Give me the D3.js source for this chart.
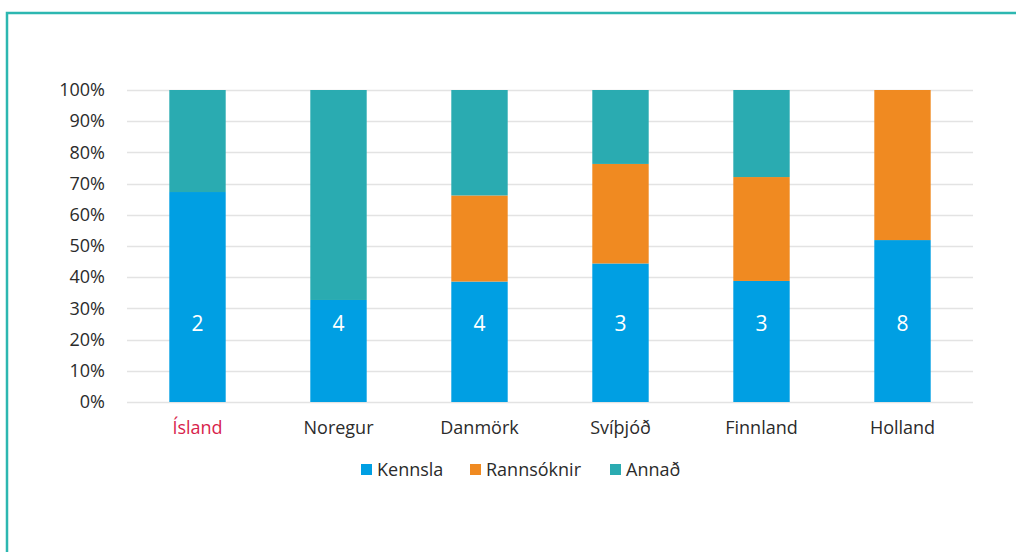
<!DOCTYPE html>
<html>
<head>
<meta charset="utf-8">
<script src="https://cdn.jsdelivr.net/npm/d3@7"></script>
<style>
  body { margin: 0; background: #fff; }
  text { font-family: "Open Sans", "Noto Sans", sans-serif; }
</style>
</head>
<body>
<div id="chart"></div>
<script>
let svgWidth = 1016;
let svgHeight = 552;

// Data ===========================
let countries = ["Ísland", "Noregur", "Danmörk", "Svíþjóð", "Finnland", "Holland"];
let seriesNames = ["Kennsla", "Rannsóknir", "Annað"];
let kennsla = [67.3, 32.7, 38.6, 44.4, 38.8, 51.9];
let rannsoknir = [0, 0, 27.6, 31.9, 33.3, 48.1];
let annad = [32.7, 67.3, 33.8, 23.7, 27.9, 0];
let barLabels = [2, 4, 4, 3, 3, 8];
let yTicks = [0, 10, 20, 30, 40, 50, 60, 70, 80, 90, 100];
let colors = ["#009fe3", "#f08a21", "#2aabb1"];

let table = countries.map((c, i) => ({
  country: c,
  "Kennsla": kennsla[i],
  "Rannsóknir": rannsoknir[i],
  "Annað": annad[i],
  label: barLabels[i]
}));

let svg = d3.select("#chart").append("svg")
  .attr("width", svgWidth)
  .attr("height", svgHeight);

// frame: left and top border
svg.append("path")
  .attr("d", `M7,${svgHeight} L7,13 L${svgWidth},13`)
  .attr("fill", "none")
  .attr("stroke", "#2db7b1")
  .attr("stroke-width", 2.5);

let margin = { top: 90, left: 127, right: 43, bottom: 150 };
let width = svgWidth - margin.left - margin.right;
let height = 402 - margin.top;

let chartGroup = svg.append("g")
  .attr("transform", `translate(${margin.left}, ${margin.top})`);

let x = d3.scaleBand().domain(countries).range([0, width]).paddingInner(0.6).paddingOuter(0.3);
let y = d3.scaleLinear().domain([0, 100]).range([height, 0]);
let color = d3.scaleOrdinal().domain(seriesNames).range(colors);

// gridlines
chartGroup.append("g")
  .selectAll("line")
  .data(yTicks)
  .enter()
  .append("line")
  .attr("x1", 0)
  .attr("x2", width)
  .attr("y1", d => Math.round(y(d)) + 0.5)
  .attr("y2", d => Math.round(y(d)) + 0.5)
  .attr("stroke", "#e3e3e3")
  .attr("stroke-width", 1.5);

// y axis labels
let yAxis = chartGroup.append("g")
  .call(d3.axisLeft(y).tickValues(yTicks).tickFormat(d => d + "%").tickSize(0).tickPadding(22));
yAxis.select(".domain").remove();
yAxis.selectAll("text")
  .style("font-family", "'Open Sans', sans-serif")
  .style("font-size", "18px")
  .style("fill", "#2b2b2b");

// stacked bars
let stacked = d3.stack().keys(seriesNames)(table);

chartGroup.append("g")
  .selectAll("g")
  .data(stacked)
  .enter()
  .append("g")
  .attr("fill", d => color(d.key))
  .selectAll("rect")
  .data(d => d)
  .enter()
  .append("rect")
  .attr("x", d => x(d.data.country))
  .attr("y", d => y(d[1]))
  .attr("width", x.bandwidth())
  .attr("height", d => y(d[0]) - y(d[1]));

// value labels inside Kennsla
chartGroup.append("g")
  .selectAll("text")
  .data(table)
  .enter()
  .append("text")
  .attr("x", d => x(d.country) + x.bandwidth() / 2)
  .attr("y", y(25))
  .attr("dy", "0.35em")
  .attr("text-anchor", "middle")
  .style("font-size", "21px")
  .style("fill", "#fff")
  .text(d => d.label);

// x axis labels
let xAxis = chartGroup.append("g")
  .attr("transform", `translate(0, ${height})`)
  .call(d3.axisBottom(x).tickSize(0).tickPadding(19));
xAxis.select(".domain").remove();
xAxis.selectAll("text")
  .style("font-family", "'Open Sans', sans-serif")
  .style("font-size", "18px")
  .style("fill", d => d === "Ísland" ? "#d81e4c" : "#2b2b2b");

// legend
let legendItems = [
  { name: "Kennsla", x: 361 },
  { name: "Rannsóknir", x: 470 },
  { name: "Annað", x: 610 }
];
let legend = svg.append("g").attr("transform", "translate(0, 470)");
let items = legend.selectAll("g")
  .data(legendItems)
  .enter()
  .append("g")
  .attr("transform", d => `translate(${d.x}, 0)`);
items.append("rect")
  .attr("x", 0)
  .attr("y", -6)
  .attr("width", 11)
  .attr("height", 11)
  .attr("fill", d => color(d.name));
items.append("text")
  .attr("x", 16)
  .attr("y", 0)
  .attr("dy", "0.35em")
  .style("font-size", "18px")
  .style("fill", "#2b2b2b")
  .text(d => d.name);
</script>
</body>
</html>
